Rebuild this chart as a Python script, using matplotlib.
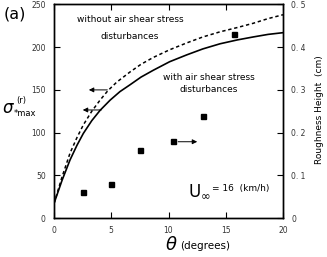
import matplotlib
matplotlib.use("Agg")
import matplotlib.pyplot as plt

# ---- data ----
theta_solid = [0, 0.7, 1.4, 2.0, 2.56, 3.3, 4.02, 4.9, 5.76, 6.64, 7.6, 8.67, 10.1, 11.59, 13.0, 14.5, 16.0, 17.4, 18.7, 20]
sigma_solid = [17, 44, 68, 85, 99, 114, 126, 138, 148, 156, 165, 173, 183, 191, 198, 204, 208.5, 212, 215, 217]
theta_dash = [0, 0.7, 1.4, 2.0, 2.56, 3.3, 4.02, 4.7, 5.47, 6.64, 7.6, 8.67, 10.1, 11.59, 13.0, 14.5, 16.0, 17.4, 18.7, 20]
sigma_dash = [17, 48, 76, 94, 109, 125, 138, 149, 159, 171, 180, 188, 197, 205, 212, 218, 223, 228, 233.5, 238]
theta_pts = [2.5, 5.0, 7.5, 10.4, 13.0, 15.7]
rough_pts = [0.06, 0.08, 0.16, 0.18, 0.24, 0.43]
xticks = [0, 5, 10, 15, 20]
yticks_left = [0, 50, 100, 150, 200, 250]
yticks_right = [0, 0.1, 0.2, 0.3, 0.4, 0.5]
yticklabels_right = ["0", "0. 1", "0. 2", "0. 3", "0. 4", "0. 5"]

plt.rcParams['font.family'] = ["DejaVu Sans"]

fig = plt.figure(figsize=(3.27, 2.57), dpi=100)
ax = fig.add_axes([54/327, 1 - 218/257, (283-54)/327, (218-4.5)/257])
ax2 = ax.twinx()

ax.plot(theta_solid, sigma_solid, color='black', lw=1.2)
ax.plot(theta_dash, sigma_dash, color='black', lw=1.1, linestyle=(0, (2.2, 1.8)))
ax2.plot(theta_pts, rough_pts, 's', color='black', markersize=3.6)

ax.set_xlim(0, 20)
ax.set_ylim(0, 250)
ax2.set_ylim(0, 0.5)
ax.set_xticks(xticks)
ax.set_yticks(yticks_left)
ax2.set_yticks(yticks_right)
ax2.set_yticklabels(yticklabels_right)

for a in (ax, ax2):
    for s in a.spines.values():
        s.set_linewidth(1.0)
ax.tick_params(axis='both', direction='in', length=4, width=0.8, labelsize=5.5, pad=6,
               top=True, labelcolor='#333333')
ax2.tick_params(axis='y', direction='in', length=4, width=0.8, labelsize=5.5, pad=6,
                labelcolor='#333333')

# arrows
arr = dict(arrowstyle='-|>', color='black', lw=0.7, mutation_scale=7)
ax.annotate('', xy=(2.8, 150), xytext=(4.9, 150), arrowprops=arr)
ax.annotate('', xy=(2.27, 126.5), xytext=(4.37, 126.5), arrowprops=arr)
ax.annotate('', xy=(12.75, 89.3), xytext=(10.6, 89.3), arrowprops=arr)

# texts
fig.text(4/327, 1 - 14/257, "(a)", fontsize=11.5, va='center', ha='left')
fig.text(130/327, 1 - 20/257, "without air shear stress", fontsize=6.5, ha='center', va='center')
fig.text(130/327, 1 - 37/257, "disturbances", fontsize=6.5, ha='center', va='center')
fig.text(209/327, 1 - 77/257, "with air shear stress", fontsize=6.5, ha='center', va='center')
fig.text(209/327, 1 - 90/257, "disturbances", fontsize=6.5, ha='center', va='center')
fig.text(211/327, 1 - 191/257, r"$\mathrm{U}_{\infty}$", fontsize=12, ha='right', va='center')
fig.text(212/327, 1 - 189/257, "= 16  (km/h)", fontsize=6.5, ha='left', va='center')
# y label (left): sigma with superscript (r) and subscript *max
fig.text(2/327, 1 - 108/257, r"$\sigma$", fontsize=12, ha='left', va='center')
fig.text(16/327, 1 - 100/257, "(r)", fontsize=6, ha='left', va='center')
fig.text(14/327, 1 - 113/257, "*max", fontsize=6, ha='left', va='center')
fig.text(178/327, 1 - 245/257, r"$\theta$", fontsize=13, ha='right', va='center')
fig.text(180/327, 1 - 246/257, "(degrees)", fontsize=7.5, ha='left', va='center')
fig.text(319/327, 1 - 110/257, "Roughness Height  (cm)", fontsize=6.5, rotation=90,
         ha='center', va='center')

fig.savefig("out.png", dpi=100)
